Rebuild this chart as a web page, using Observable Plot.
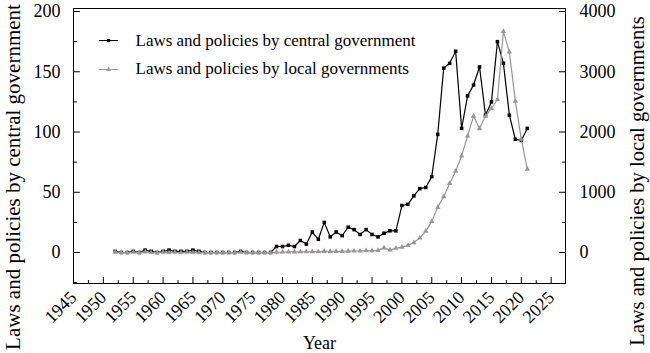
<!DOCTYPE html>
<html><head><meta charset="utf-8">
<script src="https://cdn.jsdelivr.net/npm/d3@7"></script>
<script src="https://cdn.jsdelivr.net/npm/@observablehq/plot@0.6"></script>
<style>html,body{margin:0;padding:0;background:#fff}</style>
</head><body><div id="chart"></div>
<script>
const years = [1952,1953,1954,1955,1956,1957,1958,1959,1960,1961,1962,1963,1964,1965,1966,1967,1968,1969,1970,1971,1972,1973,1974,1975,1976,1977,1978,1979,1980,1981,1982,1983,1984,1985,1986,1987,1988,1989,1990,1991,1992,1993,1994,1995,1996,1997,1998,1999,2000,2001,2002,2003,2004,2005,2006,2007,2008,2009,2010,2011,2012,2013,2014,2015,2016,2017,2018,2019,2020,2021];
const central = [1,0,0,1,0,2,1,0,1,2,1,1,1,2,1,0,0,0,0,0,0,1,0,0,0,0,0,5,5,6,5,10,7,17,11,25,13,17,14,21,19,15,19,15,13,16,18,18,39,40,47,53,54,63,98,153,157,167,103,130,139,154,114,125,175,157,114,94,93,103];
const local = [5,0,0,5,0,10,0,0,5,0,5,0,5,0,0,0,0,0,0,0,0,5,0,0,0,0,0,5,8,10,10,12,12,15,15,18,18,20,20,22,25,25,30,30,35,78,44,71,90,116,165,240,355,517,750,925,1146,1350,1603,1934,2264,2055,2264,2391,2540,3669,3327,2512,1879,1383];
const xTicks = [1945,1950,1955,1960,1965,1970,1975,1980,1985,1990,1995,2000,2005,2010,2015,2020,2025];
const xMinor = [1947.5,1952.5,1957.5,1962.5,1967.5,1972.5,1977.5,1982.5,1987.5,1992.5,1997.5,2002.5,2007.5,2012.5,2017.5,2022.5];
const leftTicks = [0,50,100,150,200];
const leftMinor = [-25,25,75,125,175];
const rightTicks = [0,1000,2000,3000,4000];
const rightMinor = [500,1500,2500,3500];
const seriesNames = ["Laws and policies by central government","Laws and policies by local governments"];
const xTitle = "Year";
const leftTitle = "Laws and policies by central government";
const rightTitle = "Laws and policies by local governments";

const ratio = rightTicks[rightTicks.length-1] / leftTicks[leftTicks.length-1];
const data = years.map((year,i)=>({year, central: central[i], local: local[i]}));
const gray = "#9a9696";
const serif = "'Liberation Serif','Times New Roman',serif";
const tickShape = {draw(ctx, l){ ctx.moveTo(0,0); ctx.lineTo(0,-l); }};
const tk = (vals, opts) => Plot.vector(vals, {anchor:"start", shape: tickShape, stroke:"#000", strokeWidth:1, ...opts});

const chart = Plot.plot({
  width: 650, height: 353,
  marginLeft: 73, marginRight: 85, marginTop: 8, marginBottom: 70,
  style: {fontFamily: serif, fontSize: "18px", color: "#000", background: "#fff"},
  x: {domain: [1945, 2027.4], axis: null},
  y: {domain: [-25.7, 202.5], axis: null},
  marks: [
    Plot.frame({stroke: "#000", strokeWidth: 1}),
    tk(xTicks, {x: d=>d, frameAnchor: "bottom", length: 6}),
    tk(xMinor, {x: d=>d, frameAnchor: "bottom", length: 3}),
    tk(leftTicks, {y: d=>d, frameAnchor: "left", length: 6, rotate: 90}),
    tk(leftMinor, {y: d=>d, frameAnchor: "left", length: 3, rotate: 90}),
    tk(rightTicks, {y: d=>d/ratio, frameAnchor: "right", length: 6, rotate: -90}),
    tk(rightMinor, {y: d=>d/ratio, frameAnchor: "right", length: 3, rotate: -90}),
    Plot.axisX(xTicks, {anchor: "bottom", tickSize: 0, tickPadding: 11, tickRotate: -45, tickFormat: d=>String(d), label: null, fontSize: 18}),
    Plot.axisY(leftTicks, {anchor: "left", tickSize: 0, tickPadding: 13, tickFormat: d=>String(d), label: null, fontSize: 18}),
    Plot.axisY(rightTicks.map(v=>v/ratio), {anchor: "right", tickSize: 0, tickPadding: 14, tickFormat: d=>String(Math.round(d*ratio)), label: null, fontSize: 18}),
    Plot.line(data, {x: "year", y: "central", stroke: "#000", strokeWidth: 1.2}),
    Plot.dot(data, {x: "year", y: "central", symbol: "square", r: 2, fill: "#000"}),
    Plot.line(data, {x: "year", y: d=>d.local/ratio, stroke: gray, strokeWidth: 1.2}),
    Plot.dot(data, {x: "year", y: d=>d.local/ratio, symbol: "triangle", r: 2, fill: gray}),
    // legend
    tk([0], {frameAnchor: "top-left", dx: 26, dy: 32, length: 18, rotate: 90, strokeWidth: 1.2}),
    Plot.dot([0], {frameAnchor: "top-left", dx: 35, dy: 32, symbol: "square", r: 1.8, fill: "#000"}),
    Plot.text([seriesNames[0]], {text: d=>d, frameAnchor: "top-left", dx: 62, dy: 32, textAnchor: "start", lineAnchor: "middle", fontSize: 17}),
    tk([0], {frameAnchor: "top-left", dx: 26, dy: 61, length: 18, rotate: 90, stroke: gray, strokeWidth: 1.2}),
    Plot.dot([0], {frameAnchor: "top-left", dx: 35, dy: 61, symbol: "triangle", r: 1.8, fill: gray}),
    Plot.text([seriesNames[1]], {text: d=>d, frameAnchor: "top-left", dx: 62, dy: 60, textAnchor: "start", lineAnchor: "middle", fontSize: 17}),
    // axis titles
    Plot.text([xTitle], {text: d=>d, frameAnchor: "bottom", dy: 60, textAnchor: "middle", lineAnchor: "middle", fontSize: 18}),
    Plot.text([leftTitle], {text: d=>d, frameAnchor: "left", dx: -60, dy: 31, rotate: -90, textAnchor: "middle", lineAnchor: "middle", fontSize: 21}),
    Plot.text([rightTitle], {text: d=>d, frameAnchor: "right", dx: 72, dy: 35, rotate: -90, textAnchor: "middle", lineAnchor: "middle", fontSize: 20.5})
  ]
});
document.getElementById("chart").appendChild(chart);
</script>
</body></html>
